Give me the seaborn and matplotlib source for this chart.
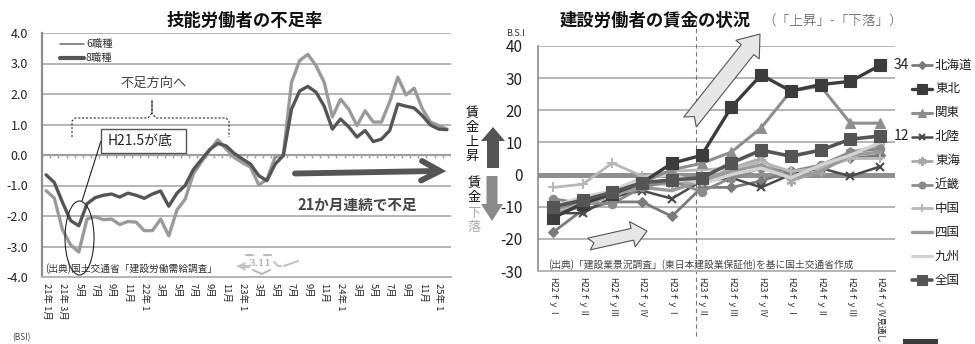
import numpy as np
import pandas as pd
import matplotlib
matplotlib.use("Agg")
import matplotlib.pyplot as plt
import seaborn as sns
from matplotlib.patches import Ellipse, Rectangle, Polygon

sns.set_theme(style="white")
plt.rcParams["font.family"] = ["Noto Sans CJK JP", "DejaVu Sans"]
plt.rcParams["axes.unicode_minus"] = False

# ---- 技能労働者の不足率 (2009/1 - 2013/2, monthly) ----
month_idx = list(range(50))
shortage_6 = [-1.17, -1.41, -2.45, -2.95, -3.18, -2.10, -2.02, -2.12, -2.10, -2.28, -2.18, -2.20,
              -2.48, -2.48, -2.10, -2.65, -1.80, -1.45, -0.62, -0.22, 0.15, 0.50, 0.20, -0.08,
              -0.25, -0.40, -0.98, -0.80, -0.07, 0.00, 2.38, 3.10, 3.30, 2.93, 2.38, 1.25,
              1.83, 1.50, 0.96, 1.45, 1.08, 1.08, 1.74, 2.55, 1.97, 2.19, 1.51, 1.08,
              0.96, 0.85]
shortage_8 = [-0.65, -0.90, -1.55, -2.15, -2.32, -1.60, -1.40, -1.32, -1.28, -1.38, -1.25, -1.32,
              -1.42, -1.28, -1.18, -1.68, -1.25, -1.00, -0.48, -0.15, 0.18, 0.38, 0.30, 0.05,
              -0.13, -0.30, -0.68, -0.84, -0.30, -0.02, 1.50, 2.10, 2.25, 2.06, 1.60, 0.85,
              1.18, 0.92, 0.59, 0.80, 0.44, 0.52, 0.80, 1.67, 1.60, 1.54, 1.29, 0.98,
              0.85, 0.83]
month_labels = ["21年 1月", "21年 3月", "5月", "7月", "9月", "11月", "22年 1", "3月", "5月", "7月",
                "9月", "11月", "23年 1", "3月", "5月", "7月", "9月", "11月", "24年 1", "3月",
                "5月", "7月", "9月", "11月", "25年 1"]
left_yticks = [4, 3, 2, 1, 0, -1, -2, -3, -4]

# ---- 建設労働者の賃金の状況 B.S.I (quarterly) ----
quarters = ["H22ｆｙⅠ", "H22ｆｙⅡ", "H22ｆｙⅢ", "H22ｆｙⅣ", "H23ｆｙⅠ", "H23ｆｙⅡ",
            "H23ｆｙⅢ", "H23ｆｙⅣ", "H24ｆｙⅠ", "H24ｆｙⅡ", "H24ｆｙⅢ", "H24ｆｙⅣ見通し"]
regions = ["北海道", "東北", "関東", "北陸", "東海", "近畿", "中国", "四国", "九州", "全国"]
bsi_hokkaido = [-18, -11, -8.5, -8.5, -13, -4, -4, -2, 1, 2, 5, 6]
bsi_tohoku = [-13.5, -9, -6, -2.5, 3.5, 6, 21, 31, 26, 28, 29, 34]
bsi_kanto = [-11, -8, -6, -2.5, 1.5, 3.5, 7, 14.5, 26, 27.5, 16, 16]
bsi_hokuriku = [-12, -12, -7, -5, -7.5, -2, -1, -4, 0, 2, -0.5, 2.5]
bsi_tokai = [-11, -9, -7, -3, -3, -2, 2, 5, -2, 1, 7, 9]
bsi_kinki = [-7.5, -9, -9, -4, -2, -5.3, -1, 2, 1, 3, 7, 8]
bsi_chugoku = [-4, -3, 3.6, -0.5, 1, 1.5, 2, 4, 1, 2, 5, 5]
bsi_shikoku = [-12, -10, -6, -4, -5, -2, 1, 3, -1, 1, 6, 7]
bsi_kyushu = [-10, -7, -5, -1, 0, -3, 0, 2, -1, 3, 6, 10]
bsi_zenkoku = [-10, -8, -5.5, -2.5, -1.7, -1, 3.6, 7.6, 5.7, 7.6, 11, 12]
right_yticks = [40, 30, 20, 10, 0, -10, -20, -30]

bsi = pd.DataFrame({
    "北海道": bsi_hokkaido, "東北": bsi_tohoku, "関東": bsi_kanto, "北陸": bsi_hokuriku,
    "東海": bsi_tokai, "近畿": bsi_kinki, "中国": bsi_chugoku, "四国": bsi_shikoku,
    "九州": bsi_kyushu, "全国": bsi_zenkoku,
})
bsi["q"] = range(len(quarters))
bsi_long = bsi.melt(id_vars="q", var_name="地域", value_name="BSI")

styles = {
    "北海道": dict(color="#7a7a7a", marker="D", ms=5, lw=2.0, z=3),
    "東北": dict(color="#3c3c3c", marker="s", ms=8, lw=2.4, z=6),
    "関東": dict(color="#8e8e8e", marker="^", ms=7, lw=2.2, z=5),
    "北陸": dict(color="#4a4a4a", marker="x", ms=6, lw=1.8, z=3),
    "東海": dict(color="#a8a8a8", marker=(6, 2, 0), ms=7, lw=2.0, z=3),
    "近畿": dict(color="#8a8a8a", marker="o", ms=6, lw=2.0, z=3),
    "中国": dict(color="#b8b8b8", marker="+", ms=7, lw=2.0, z=3),
    "四国": dict(color="#9a9a9a", marker=None, ms=0, lw=2.4, z=3),
    "九州": dict(color="#d2d2d2", marker=None, ms=0, lw=2.4, z=3),
    "全国": dict(color="#555555", marker="s", ms=8, lw=2.6, z=7),
}

W, H = 975, 344
fig = plt.figure(figsize=(W / 100, H / 100), dpi=100)
fig.patch.set_facecolor("white")


def box(l, t, r, b):
    return [l / W, 1 - b / H, (r - l) / W, (b - t) / H]


GRID = "#b5b5b5"

# ---------- left: shortage rate ----------
ax1 = fig.add_axes(box(42, 33, 451, 277))
ax1.axhline(0, color="#a0a0a0", lw=1.6, zorder=2)
ax1.vlines([i + 0.5 for i in range(-1, 50)], -0.1, 0, color="#a0a0a0", lw=1, zorder=2)
sns.lineplot(x=month_idx, y=shortage_6, ax=ax1, color="#9a9a9a", lw=2.4, zorder=3)
sns.lineplot(x=month_idx, y=shortage_8, ax=ax1, color="#555555", lw=2.4, zorder=4)
ax1.set_xlim(-0.5, 49.5)
ax1.set_ylim(-4, 4)
ax1.set_yticks(left_yticks)
ax1.set_yticklabels([f"{v:.1f}" for v in left_yticks], fontsize=9, color="#222")
ax1.set_xticks(month_idx[::2])
ax1.set_xticklabels(month_labels, rotation=270, fontsize=6.8, color="#222", va="top", ha="center")
ax1.tick_params(axis="both", length=0)
ax1.tick_params(axis="y", pad=10)
ax1.tick_params(axis="x", pad=4)
ax1.grid(axis="y", color=GRID, lw=1.4)
ax1.grid(axis="x", visible=False)
for s in ["top", "right"]:
    ax1.spines[s].set_visible(False)
ax1.spines["left"].set_color("#8c8c8c")
ax1.spines["left"].set_linewidth(1.6)
ax1.spines["bottom"].set_color(GRID)
ax1.spines["bottom"].set_linewidth(1.4)
ax1.set_xlabel("")
ax1.set_ylabel("")

# ---------- right: wage BSI ----------
ax2 = fig.add_axes(box(538, 46, 895, 271))
ax2.axhline(0, color="#8f8f8f", lw=3.6, zorder=1.5)
for name in regions:
    st = styles[name]
    sub = bsi_long[bsi_long["地域"] == name]
    kw = dict(color=st["color"], lw=st["lw"], zorder=st["z"])
    if st["marker"] is not None:
        kw.update(marker=st["marker"], markersize=st["ms"], markeredgecolor=st["color"],
                  markeredgewidth=1.5 if st["marker"] in ("x", "+", (6, 2, 0)) else 0.8)
    sns.lineplot(data=sub, x="q", y="BSI", ax=ax2, **kw)
ax2.set_xlim(-0.5, len(quarters) - 0.5)
ax2.set_ylim(-30, 40)
ax2.set_yticks(right_yticks)
ax2.set_yticklabels([str(v) for v in right_yticks], fontsize=11, color="#222")
ax2.set_xticks(range(len(quarters)))
ax2.set_xticklabels(quarters, rotation=270, fontsize=6.0, color="#222", va="top", ha="center")
ax2.tick_params(axis="both", length=0)
ax2.tick_params(axis="y", pad=11)
ax2.tick_params(axis="x", pad=4)
ax2.grid(axis="y", color=GRID, lw=1.4)
ax2.grid(axis="x", visible=False)
for s in ["top", "right"]:
    ax2.spines[s].set_visible(False)
ax2.spines["left"].set_color("#8c8c8c")
ax2.spines["left"].set_linewidth(1.2)
ax2.spines["bottom"].set_color(GRID)
ax2.spines["bottom"].set_linewidth(1.4)
ax2.set_xlabel("")
ax2.set_ylabel("")
ax2.axvline(4.8, ymin=-0.29, ymax=1.11, clip_on=False, color="#777777", lw=0.8,
            ls=(0, (4, 3)), zorder=1)
ax2.annotate(f"{bsi_tohoku[-1]:g}", xy=(len(quarters) - 1, bsi_tohoku[-1]), xytext=(10, 0),
             textcoords="offset points", va="center", fontsize=10, color="#222",
             annotation_clip=False)
ax2.annotate(f"{bsi_zenkoku[-1]:g}", xy=(len(quarters) - 1, bsi_zenkoku[-1]), xytext=(10, 0),
             textcoords="offset points", va="center", fontsize=10, color="#222",
             annotation_clip=False)

# ---------- overlay in pixel coordinates ----------
ov = fig.add_axes([0, 0, 1, 1], zorder=10)
ov.set_xlim(0, W)
ov.set_ylim(H, 0)
ov.axis("off")
ov.patch.set_alpha(0)


def notched_arrow(tail, tip, shaft_w, head_w, head_len, notch, **kw):
    t = np.array(tail, float)
    p = np.array(tip, float)
    u = (p - t) / np.linalg.norm(p - t)
    n = np.array([-u[1], u[0]])
    hb = p - u * head_len
    pts = [t + n * shaft_w / 2, hb + n * shaft_w / 2, hb + n * head_w / 2, p,
           hb - n * head_w / 2, hb - n * shaft_w / 2, t - n * shaft_w / 2, t + u * notch]
    ov.add_patch(Polygon(pts, closed=True, **kw))


# titles
ov.text(245, 21, "技能労働者の不足率", ha="center", va="center", fontsize=12.5,
        fontweight="bold", color="#111")
ov.text(655, 21, "建設労働者の賃金の状況", ha="center", va="center", fontsize=12.5,
        fontweight="bold", color="#111")
ov.text(762, 21, "（「上昇」-「下落」）", ha="left", va="center", fontsize=9.8,
        color="#555", fontweight="light")

# left legend
ov.plot([60, 84], [44, 44], color="#777", lw=1.2)
ov.text(86, 44, "6職種", va="center", fontsize=7.5, color="#333")
ov.plot([60, 84], [58, 58], color="#555", lw=3)
ov.text(86, 58, "8職種", va="center", fontsize=7.5, color="#333")

# brace and annotations
ov.text(154, 83, "不足方向へ", ha="center", va="center", fontsize=9.5, color="#444")
brace_x = [72, 72, 75, 148, 152, 152, 152, 156, 226, 229, 229]
brace_y = [137, 121, 118, 118, 113, 100, 113, 118, 118, 121, 137]
ov.plot(brace_x, brace_y, color="#333", lw=0.8, ls=(0, (2, 1.5)))
ov.add_patch(Rectangle((101, 129), 85, 24, facecolor="white", edgecolor="#555", lw=1, zorder=5))
ov.text(140, 141, "H21.5が底", ha="center", va="center", fontsize=10, color="#222", zorder=6)
ov.plot([101, 82], [141, 201], color="#222", lw=0.8)
ov.add_patch(Ellipse((79.5, 238), 29, 74, facecolor="none", edgecolor="#222", lw=0.8))
ov.text(45, 269, "(出典)国土交通省「建設労働需給調査」", ha="left", va="center", fontsize=7,
        color="#333")

# 3.11 mark
ov.text(260, 263, "3.11", ha="center", va="center", fontsize=7.5, color="#9a9a9a",
        family="DejaVu Serif")
ov.plot([246, 253], [255, 255], color="#bbb", lw=1.5)
ov.plot([264, 271], [255, 255], color="#bbb", lw=1.5)
ov.plot([253, 262, 270], [270, 274, 270], color="#bbb", lw=1.5)
ov.add_patch(Polygon([[236, 266], [246, 262], [245, 265], [250, 265], [250, 268], [245, 268],
                      [246, 271]], closed=True, facecolor="#c4c4c4", edgecolor="none"))
ov.plot([274, 278, 281], [262, 266, 266], color="#c4c4c4", lw=1.5)
ov.plot([284, 298], [266, 261], color="#c4c4c4", lw=1.5)

# shortage arrow
ov.plot([295, 436], [173.5, 171], color="#555", lw=4.2, solid_capstyle="round")
ov.plot([422, 440, 421], [161, 171, 180.5], color="#555", lw=4.2, solid_capstyle="round",
        solid_joinstyle="miter")
ov.text(357, 205, "21か月連続で不足", ha="center", va="center", fontsize=10.5,
        fontweight="bold", color="#444")

# up / down wage arrows
for ch, y in zip("賃金上昇", [114, 128, 142, 156]):
    ov.text(472, y, ch, ha="center", va="center", fontsize=9.5, color="#111")
for ch, y, c in zip("賃金下落", [183, 198, 213, 228], ["#111", "#111", "#aaa", "#aaa"]):
    ov.text(474, y, ch, ha="center", va="center", fontsize=9.5, color=c)
ov.add_patch(Polygon([[493, 127], [505, 141], [499, 141], [499, 168], [487, 168], [487, 141],
                      [481, 141]], closed=True, facecolor="#555", edgecolor="none"))
ov.add_patch(Polygon([[492, 221], [503, 204], [497.5, 204], [497.5, 176], [486.5, 176],
                      [486.5, 204], [481, 204]], closed=True, facecolor="#8a8a8a",
                     edgecolor="none"))
ov.text(516, 33, "B.S.I", ha="center", va="center", fontsize=6.5, color="#333")

# trend arrows on the wage chart
notched_arrow((690, 122), (760, 34), 16, 30, 20, 7, facecolor="#e6e6e6", edgecolor="#555",
              lw=0.8, zorder=2)
notched_arrow((589, 244), (647, 231), 12, 26, 15, 5, facecolor="#e6e6e6", edgecolor="#555",
              lw=0.8, zorder=2)
ov.text(548, 265, "(出典)「建設業景況調査」(東日本建設業保証他)を基に国土交通省作成", ha="left",
        va="center", fontsize=7, color="#444")

# right legend
for k, name in enumerate(regions):
    st = styles[name]
    y = 65 + 23.9 * k
    ov.plot([912, 932], [y, y], color=st["color"], lw=st["lw"])
    if st["marker"] is not None:
        ov.plot([922], [y], marker=st["marker"], ms=st["ms"] - 1, color=st["color"],
                markeredgecolor=st["color"],
                markeredgewidth=1.5 if st["marker"] in ("x", "+", (6, 2, 0)) else 0.8)
    ov.text(935, y, name, ha="left", va="center", fontsize=9, color="#222")

# start of the next section along the bottom edge
ov.text(12, 338, "(BSI)", ha="left", va="center", fontsize=6, color="#444")
ov.add_patch(Rectangle((903, 339), 35, 6, facecolor="#3c3c3c", edgecolor="none"))

fig.savefig("out.png", dpi=100, facecolor="white")
